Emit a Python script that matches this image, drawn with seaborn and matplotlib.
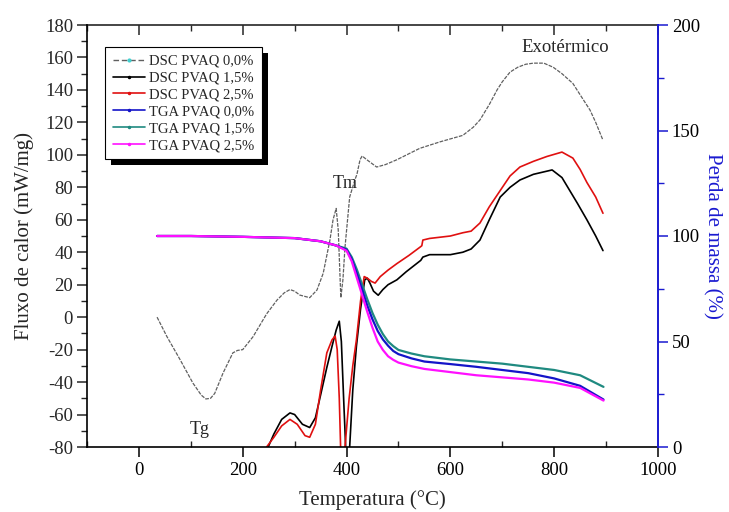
import numpy as np
import pandas as pd
import matplotlib
matplotlib.use("Agg")
import matplotlib.pyplot as plt
import seaborn as sns
from matplotlib.lines import Line2D
from matplotlib.patches import Rectangle
from matplotlib.transforms import IdentityTransform
from matplotlib.ticker import MultipleLocator

# ---------------- data ----------------
dsc00_t = [35, 54, 79, 104, 120, 129, 138, 146, 162, 181, 190, 200, 220, 246, 266, 280, 291, 300,
           310, 329, 343, 355, 368, 374, 380, 384, 389, 393, 397, 406, 416, 420, 426, 430, 439,
           458, 475, 497, 541, 580, 624, 644, 657, 675, 690, 700, 715, 730, 745, 760, 780, 798,
           815, 836, 850, 869, 880, 894]
dsc00_v = [0, -12, -26, -40.6, -48, -50.4, -50, -47, -34.5, -22, -20.5, -20, -12, 2, 10.5, 15, 17,
           16, 13.6, 12, 16.7, 27, 47.5, 60, 67, 53.7, 12, 23, 43, 74, 84.5, 88, 97, 99.3, 97,
           92.5, 94, 97, 104, 108, 112, 117, 121.5, 131, 140, 145, 151, 154, 155.8, 156.5, 156.5,
           154, 150, 144, 137, 127.6, 120, 109]

dsc15_t = [240, 249, 260, 275, 291, 300, 315, 329, 340, 350, 362, 372, 380, 386, 390, 395, 399,
           401, 403, 406, 412, 419, 427, 435, 440, 445, 452, 461, 470, 480, 497, 515, 535,
           543, 547, 560, 600, 624, 640, 657, 675, 696, 715, 734, 760, 796, 815, 830, 845,
           863, 880, 894]
dsc15_v = [-92, -80, -72, -63, -59, -60, -66, -68, -62, -48, -31, -18, -8, -2.5, -15, -55, -85,
           -100, -100, -80, -45, -18, 5, 23, 24, 21, 16, 13.5, 17, 20, 23, 28, 33,
           35, 37, 38.5, 38.5, 40, 42, 47.5, 60, 74, 80, 84.5, 88, 90.7, 86, 78, 70,
           60, 50, 41]

dsc25_t = [240, 246, 260, 275, 291, 305, 320, 329, 340, 350, 362, 372, 378, 382, 386, 389, 391,
           395, 397, 405, 412, 419, 427, 434, 440, 448, 455, 465, 480, 497, 520, 541, 545,
           547, 560, 600, 624, 640, 657, 675, 696, 715, 734, 760, 786, 815, 836, 850, 863,
           880, 894]
dsc25_v = [-90, -80, -74, -67, -63, -66, -73, -74, -66, -45, -22, -14, -11.6, -20, -50, -85, -100,
           -100, -80, -50, -30, -14, 10, 25, 24, 22, 21, 25, 29, 33, 38, 43, 44,
           47.5, 48.5, 50, 52, 53, 58, 68, 78, 87, 92.5, 96, 99, 101.7, 98, 91, 83,
           74, 64]

tga_t = [35, 100, 200, 300, 350, 380, 400, 410, 420, 430, 440, 450, 460, 470, 480, 490, 500,
         525, 550, 600, 650, 700, 750, 800, 850, 895]
tga00_v = [100, 100, 99.6, 99, 97.5, 95.5, 93.5, 89, 82, 74.5, 67, 60.5, 55, 51, 48, 45.5, 44,
           42, 40.5, 39.3, 38, 36.5, 35, 32.5, 29, 22.5]
tga15_v = [100, 100, 99.6, 99, 97.5, 95.5, 94, 90, 84, 77, 70, 63.5, 58, 53.5, 50, 47.8, 46,
           44.3, 43, 41.5, 40.5, 39.5, 38, 36.5, 34, 28.5]
tga25_v = [100, 100, 99.6, 99, 97.5, 95.5, 93, 88, 80, 72, 64, 56.5, 50, 46, 43, 41.3, 40,
           38.3, 37, 35.5, 34, 33, 32, 30.5, 28, 22]

series_labels = ["DSC PVAQ 0,0%", "DSC PVAQ 1,5%", "DSC PVAQ 2,5%",
                 "TGA PVAQ 0,0%", "TGA PVAQ 1,5%", "TGA PVAQ 2,5%"]
c_dsc00, c_dsc15, c_dsc25 = "#606060", "#000000", "#e01010"
c_tga00, c_tga15, c_tga25 = "#1414c8", "#1f8a80", "#ff10ff"
c_axis2 = "#1a1ad0"

# ---------------- style ----------------
sns.set_theme(style="white")
plt.rcParams["font.family"] = ["Liberation Serif", "DejaVu Serif"]
plt.rcParams["axes.linewidth"] = 1.2
plt.rcParams["axes.unicode_minus"] = False

fig = plt.figure(figsize=(7.29, 5.12), dpi=100)
ax = fig.add_axes([87 / 729, 65 / 512, 571 / 729, 422 / 512])
ax2 = ax.twinx()

df00 = pd.DataFrame({"T": dsc00_t, "F": dsc00_v})
df15 = pd.DataFrame({"T": dsc15_t, "F": dsc15_v})
df25 = pd.DataFrame({"T": dsc25_t, "F": dsc25_v})
sns.lineplot(data=df00, x="T", y="F", ax=ax, color=c_dsc00, lw=0.9,
             linestyle=(0, (3, 1)), legend=False)
sns.lineplot(data=df15, x="T", y="F", ax=ax, color=c_dsc15, lw=1.2, legend=False)
sns.lineplot(data=df25, x="T", y="F", ax=ax, color=c_dsc25, lw=1.2, legend=False)

tga = pd.DataFrame({"T": tga_t, "a": tga00_v, "b": tga15_v, "c": tga25_v})
sns.lineplot(data=tga, x="T", y="b", ax=ax2, color=c_tga15, lw=1.6, legend=False)
sns.lineplot(data=tga, x="T", y="a", ax=ax2, color=c_tga00, lw=1.6, legend=False)
sns.lineplot(data=tga, x="T", y="c", ax=ax2, color=c_tga25, lw=1.6, legend=False)

ax.set_xlim(-100, 1000)
ax.set_ylim(-80, 180)
ax2.set_ylim(0, 200)

ax.xaxis.set_major_locator(MultipleLocator(200))
ax.xaxis.set_minor_locator(MultipleLocator(100))
ax.yaxis.set_major_locator(MultipleLocator(20))
ax.yaxis.set_minor_locator(MultipleLocator(10))
ax2.yaxis.set_major_locator(MultipleLocator(50))
ax2.yaxis.set_minor_locator(MultipleLocator(25))

tfs = 13.5
ax.tick_params(axis="x", which="major", direction="out", length=7, width=1.1,
               bottom=True, top=False, labelsize=tfs, pad=4, colors="black")
ax.tick_params(axis="x", which="minor", direction="in", length=4, width=1.0,
               bottom=True, top=False)
ax.tick_params(axis="y", which="major", direction="out", length=7, width=1.1,
               left=True, right=False, labelsize=tfs, pad=3)
ax.tick_params(axis="y", which="minor", direction="out", length=4, width=1.0,
               left=True, right=False)

top = ax.secondary_xaxis("top")
top.xaxis.set_major_locator(MultipleLocator(200))
top.xaxis.set_minor_locator(MultipleLocator(100))
top.tick_params(axis="x", which="major", direction="in", length=7, width=1.1, labeltop=False)
top.tick_params(axis="x", which="minor", direction="in", length=4, width=1.0)
top.spines["top"].set_linewidth(1.2)

ax2.tick_params(axis="y", which="major", direction="out", length=7, width=1.1,
                color=c_axis2, labelcolor="black", labelsize=tfs, pad=3)
ax2.tick_params(axis="y", which="minor", direction="out", length=4, width=1.0,
                color=c_axis2)
ax2.spines["right"].set_color(c_axis2)
ax2.spines["right"].set_linewidth(1.4)
for s in ["left", "top", "bottom"]:
    ax2.spines[s].set_visible(False)
ax.spines["right"].set_visible(False)
for s in ["left", "bottom"]:
    ax.spines[s].set_color("black")
ax.spines["top"].set_visible(False)

ax.set_xlabel("Temperatura (°C)", fontsize=15, labelpad=8)
ax.set_ylabel("Fluxo de calor (mW/mg)", fontsize=15, labelpad=8)
ax2.set_ylabel("Perda de massa (%)", fontsize=15, color=c_axis2, rotation=-90,
               labelpad=16)

ax.text(821, 166, "Exotérmico", ha="center", va="center", fontsize=13.5)
ax.text(397, 82.6, "Tm", ha="center", va="center", fontsize=13)
ax.text(118, -69.5, "Tg", ha="center", va="center", fontsize=13)

handles = [
    Line2D([], [], color=c_dsc00, lw=1.0, linestyle=(0, (4, 2)), marker=".",
           markersize=4, markerfacecolor="#40d0d0", markeredgecolor="#40d0d0"),
    Line2D([], [], color=c_dsc15, lw=1.2, marker=".", markersize=3),
    Line2D([], [], color=c_dsc25, lw=1.2, marker=".", markersize=3),
    Line2D([], [], color=c_tga00, lw=1.2, marker=".", markersize=3),
    Line2D([], [], color=c_tga15, lw=1.2, marker=".", markersize=3),
    Line2D([], [], color=c_tga25, lw=1.2, marker=".", markersize=3),
]
leg = ax2.legend(handles, series_labels, loc="upper left", bbox_to_anchor=(0.032, 0.947),
                 fontsize=10.5, frameon=True, fancybox=False, edgecolor="black",
                 framealpha=1, borderpad=0.5, labelspacing=0.25, handlelength=2.2,
                 handletextpad=0.3, borderaxespad=0)
leg.get_frame().set_linewidth(0.8)
leg.set_zorder(6)

fig.canvas.draw()
bb = leg.get_window_extent()
shadow = Rectangle((bb.x0 + 6, bb.y0 - 6), bb.width, bb.height, transform=IdentityTransform(),
                   facecolor="black", edgecolor="none", zorder=5.5, clip_on=False)
ax2.add_artist(shadow)

fig.savefig("out.png", dpi=100)
